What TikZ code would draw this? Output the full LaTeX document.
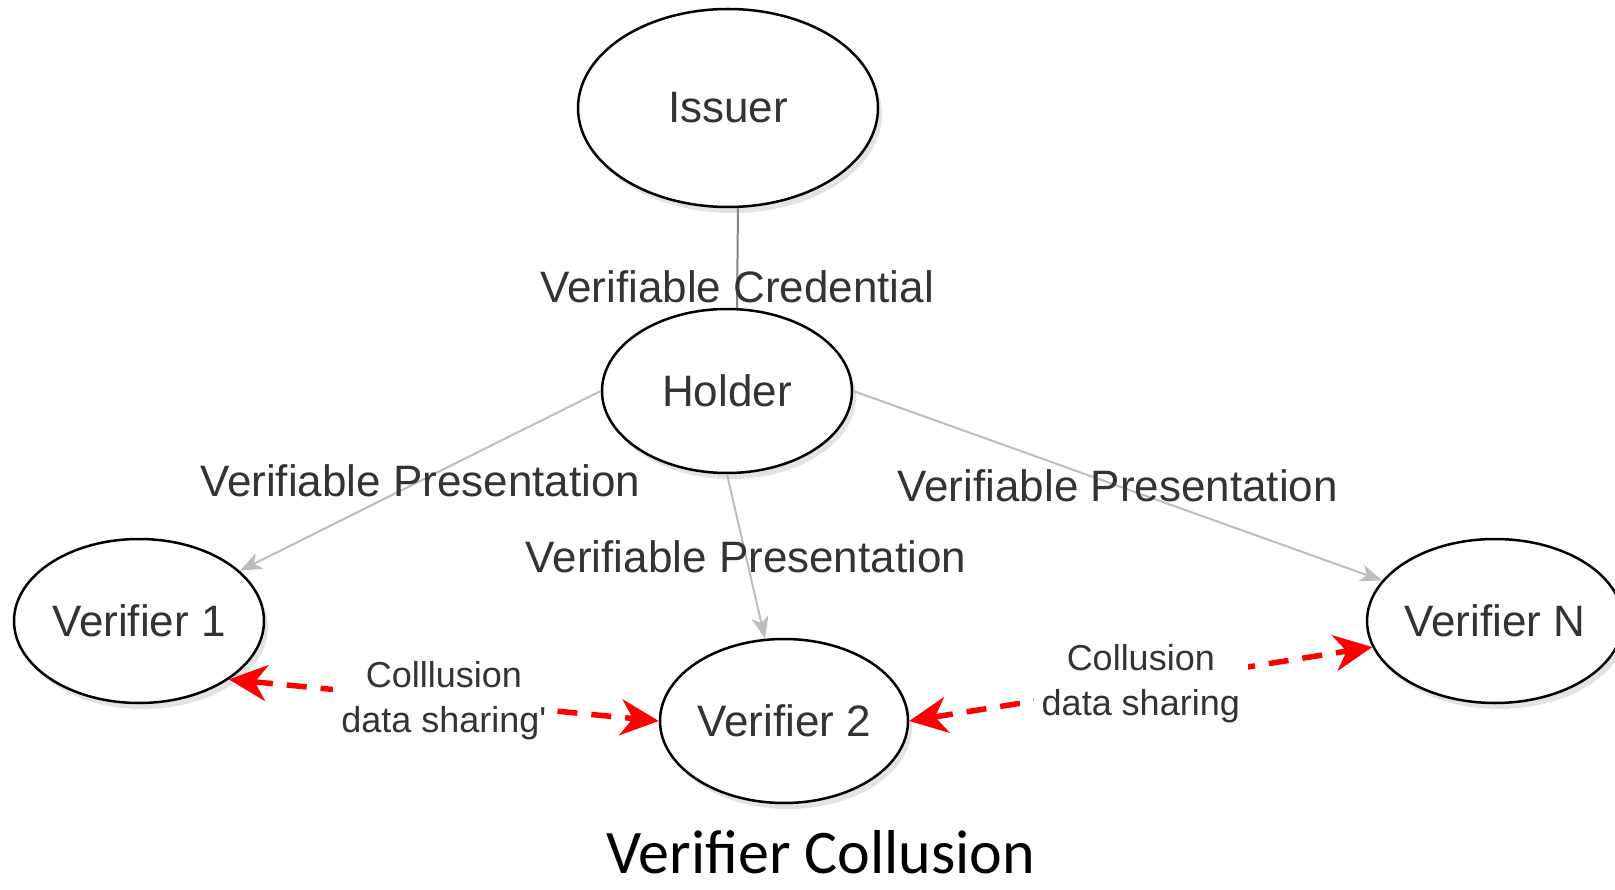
\documentclass[tikz,border=0pt]{standalone}
\usepackage{fontspec}
\setmainfont{Liberation Sans}
\newfontfamily\titlefont{Carlito}
\usetikzlibrary{shapes.geometric,arrows.meta,shadows}
\definecolor{txt}{HTML}{333333}
\definecolor{edgegray}{HTML}{BDBDBD}
\definecolor{credgray}{HTML}{858585}
\definecolor{collred}{HTML}{FF0000}
\begin{document}
\begin{tikzpicture}[x=1pt,y=-1pt,
  party/.style={ellipse, draw=black, line width=2.5pt, fill=white, inner sep=0pt, text=txt,
    font=\fontsize{44}{50}\selectfont,
    drop shadow={shadow xshift=4pt, shadow yshift=-6pt, fill=black!22, draw=none}},
  present/.style={draw=edgegray, line width=2pt, -{Stealth[length=22pt,width=17pt,inset=6pt]}},
  credline/.style={draw=credgray, line width=2pt},
  elabel/.style={text=txt, font=\fontsize{44}{50}\selectfont, inner sep=0pt},
  collude/.style={draw=collred, line width=5.5pt, dash pattern=on 20pt off 14pt, {Stealth[length=38pt,width=36pt,inset=12pt]}-{Stealth[length=38pt,width=36pt,inset=12pt]}},
  clabel/.style={fill=white, text=txt, font=\fontsize{36}{45}\selectfont, align=center, inner sep=8pt}
]
\useasboundingbox (0,0) rectangle (1615,890);

\node[party, minimum width=300pt, minimum height=198pt] (issuer) at (728,108) {Issuer};
\node[party, minimum width=250pt, minimum height=164pt] (holder) at (727,391) {Holder};
\node[party, minimum width=250pt, minimum height=164pt] (v1) at (139,621) {Verifier 1};
\node[party, minimum width=248pt, minimum height=164pt] (v2) at (784,721) {Verifier 2};
\node[party, minimum width=246pt, minimum height=164pt] (vN) at (1495,621) {Verifier N};

\draw[credline] ([xshift=10pt]issuer.south) -- node[elabel, pos=0.79] {Verifiable Credential} ([xshift=10pt]holder.north);

\draw[present] (holder.west) -- node[elabel, midway] {Verifiable Presentation} (v1);
\draw[present] (holder.south) -- node[elabel, midway] {Verifiable Presentation} (v2);
\draw[present] (holder.east) -- node[elabel, midway] {Verifiable Presentation} (vN);

\draw[collude] (v1.-33) -- node[clabel, midway] {Colllusion\\data sharing\textquotesingle} (v2.west);
\draw[collude] (v2.east) -- node[clabel, midway] {Collusion\\data sharing} (vN.192);

\node[font=\titlefont\fontsize{62}{70}\selectfont, text=black, inner sep=0pt] (title) at (821,852) {Verifier Collusion};
\end{tikzpicture}
\end{document}
